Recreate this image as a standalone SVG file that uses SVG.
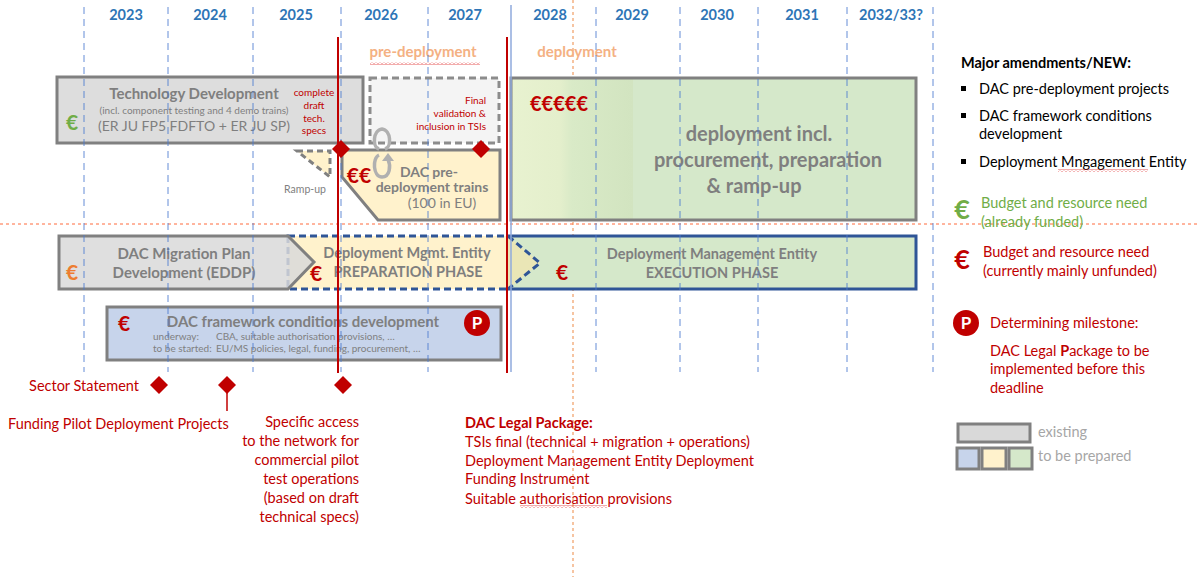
<svg xmlns="http://www.w3.org/2000/svg" width="1198" height="577" viewBox="0 0 1198 577">
<defs>
<style>
text{font-family:Lato,"Open Sans",sans-serif}
.yr{font-size:14.5px;font-weight:bold;fill:#2E75B6;text-anchor:middle}
.gb{fill:#7F7F7F;font-weight:bold;text-anchor:middle}
.gn{fill:#7F7F7F;text-anchor:middle}
.eur{font-weight:bold;font-size:21px;text-anchor:middle}
.sm{font-size:10px;fill:#C00000}
.ms{font-size:14.5px;fill:#C00000}
.lg{font-size:14.5px;fill:#000}
.fw{font-size:10px;fill:#808080}
.grid{stroke:#4A7BD0;stroke-width:1;stroke-dasharray:7 5;opacity:.85}
.dia{fill:#C00000}
</style>
<linearGradient id="gdep" gradientUnits="userSpaceOnUse" x1="511" y1="0" x2="916" y2="0">
<stop offset="0" stop-color="#E8F2D0"/>
<stop offset="0.12" stop-color="#E4EFCC"/>
<stop offset="0.15" stop-color="#D9EAC7"/>
<stop offset="0.30" stop-color="#D2E4C0"/>
<stop offset="0.302" stop-color="#D5E8CA"/>
<stop offset="1" stop-color="#D5E8CA"/>
</linearGradient>
<pattern id="wavy" width="4" height="3" patternUnits="userSpaceOnUse">
<path d="M0,2.5 L2,0.5 L4,2.5" stroke="#E03030" fill="none" stroke-width="0.8"/>
</pattern>
</defs>
<rect width="1198" height="577" fill="#FFFFFF"/>

<g id="years">
<text class="yr" x="126" y="20">2023</text>
<text class="yr" x="210" y="20">2024</text>
<text class="yr" x="296" y="20">2025</text>
<text class="yr" x="381" y="20">2026</text>
<text class="yr" x="465" y="20">2027</text>
<text class="yr" x="550" y="20">2028</text>
<text class="yr" x="632" y="20">2029</text>
<text class="yr" x="717" y="20">2030</text>
<text class="yr" x="802" y="20">2031</text>
<text class="yr" x="891" y="20">2032/33?</text>
</g>

<g id="phases">
<text x="423" y="57" style="font-size:15px;font-weight:bold;fill:#F4B183;text-anchor:middle">pre-deployment</text>
<rect x="370" y="62" width="110" height="3" fill="url(#wavy)"/>
<text x="577" y="57" style="font-size:15px;font-weight:bold;fill:#F4B183;text-anchor:middle">deployment</text>
</g>

<g id="guides">
<line x1="573" y1="0" x2="573" y2="577" stroke="#F4B183" stroke-width="1.5" stroke-dasharray="3 3"/>
<line x1="0" y1="224" x2="1198" y2="224" stroke="#FF6A3D" stroke-width="1" stroke-dasharray="3 3"/>
</g>

<g id="tech-dev">
<rect x="57" y="77" width="306" height="66" fill="#DDDDDD" stroke="#808080" stroke-width="3"/>
<text class="gb" x="194" y="99" style="font-size:15px">Technology Development</text>
<text class="gn" x="194" y="114" style="font-size:10px">(incl. component testing and 4 demo trains)</text>
<text class="gn" x="194" y="131" style="font-size:14px">(ER JU FP5 FDFTO + ER JU SP)</text>
<text class="eur" x="72" y="130" fill="#70AD47">€</text>
</g>

<g id="validation">
<rect x="370" y="78" width="129" height="65" fill="#F4F4F4" stroke="#8C8C8C" stroke-width="3" stroke-dasharray="7 4"/>
<text class="sm" x="486" y="104" text-anchor="end">Final</text>
<text class="sm" x="486" y="117" text-anchor="end">validation &amp;</text>
<text class="sm" x="486" y="130" text-anchor="end">inclusion in TSIs</text>
</g>

<g id="draft-specs">
<text class="sm" x="314" y="96" text-anchor="middle">complete</text>
<text class="sm" x="314" y="109" text-anchor="middle">draft</text>
<text class="sm" x="314" y="122" text-anchor="middle">tech.</text>
<text class="sm" x="314" y="134" text-anchor="middle">specs</text>
</g>

<g id="ramp-up">
<polygon points="297,151 330,151 330,177" fill="#FFF2CC" stroke="#808080" stroke-width="3" stroke-dasharray="6 4"/>
<text class="gn" x="305" y="193" style="font-size:10.5px">Ramp-up</text>
</g>

<g id="pre-deployment-trains">
<path d="M342,150 H500 V220 H378 L342,177 Z" fill="#FFF2CC" stroke="#808080" stroke-width="3"/>
<text class="eur" x="359" y="183" fill="#C00000">€€</text>
<text class="gb" x="429" y="177" style="font-size:14px">DAC pre-</text>
<text class="gb" x="432" y="192" style="font-size:14px">deployment trains</text>
<text class="gn" x="442" y="208" style="font-size:14px">(100 in EU)</text>
<path d="M379,149 C372,147 373,130 382,129 C391,130 392,147 385,149" fill="none" stroke="#B0B0B0" stroke-width="3.5"/>
<path d="M379,155 C372,158 373,177 382,177 C390,177 391,166 388,159" fill="none" stroke="#B0B0B0" stroke-width="3.5"/>
<polygon points="382,161 388,153 394,161" fill="#B0B0B0"/>
</g>

<g id="deployment">
<rect x="511" y="78" width="405" height="142" fill="url(#gdep)" stroke="#808080" stroke-width="3"/>
<text class="eur" x="559" y="111" fill="#C00000" style="font-size:20px">€€€€€</text>
<text class="gb" x="759" y="141" style="font-size:20px">deployment incl.</text>
<text class="gb" x="768" y="167" style="font-size:20px">procurement, preparation</text>
<text class="gb" x="754" y="193" style="font-size:20px">&amp; ramp-up</text>
</g>

<g id="dme-execution">
<rect x="509" y="236" width="407" height="53" fill="#D5E8CA" stroke="#2F5597" stroke-width="3"/>
<text class="gb" x="712" y="259" style="font-size:14.5px">Deployment Management Entity</text>
<text class="gb" x="712" y="278" style="font-size:14.5px">EXECUTION PHASE</text>
<text class="eur" x="562" y="280" fill="#C00000">€</text>
</g>

<g id="dme-preparation">
<rect x="288" y="236" width="220" height="53" fill="#FFF2CC" stroke="#2F5597" stroke-width="3" stroke-dasharray="7 4"/>
<path d="M508,236 L540,263 L508,289 Z" fill="#EAE6B6" stroke="none"/>
<path d="M508,236 L540,263 L508,289" fill="none" stroke="#2F5597" stroke-width="3" stroke-dasharray="7 4"/>
<text class="gb" x="407" y="258" style="font-size:14.5px">Deployment Mgmt. Entity</text>
<text class="gb" x="408" y="277" style="font-size:14.5px">PREPARATION PHASE</text>
<text class="eur" x="316" y="281" fill="#C00000">€</text>
</g>

<g id="migration-plan">
<path d="M59,236 H288 L314,262 L288,289 H59 Z" fill="#D9D9D9" fill-opacity="0.85" stroke="#808080" stroke-width="3"/>
<text class="gb" x="184" y="259" style="font-size:15px">DAC Migration Plan</text>
<text class="gb" x="184" y="278" style="font-size:15px">Development (EDDP)</text>
<text class="eur" x="72" y="280" fill="#ED7D31">€</text>
</g>

<g id="framework">
<rect x="107" y="307" width="394" height="53" fill="#C7D4EB" stroke="#808080" stroke-width="3"/>
<text class="gb" x="303" y="327" style="font-size:15px">DAC framework conditions development</text>
<text class="eur" x="124" y="331" fill="#C00000">€</text>
<text class="fw" x="153" y="340">underway:</text>
<text class="fw" x="216" y="340">CBA, suitable authorisation provisions, …</text>
<text class="fw" x="153" y="352">to be started:</text>
<text class="fw" x="216" y="352">EU/MS policies, legal, funding, procurement, …</text>
<circle cx="477" cy="323" r="13" fill="#C00000"/>
<text x="477" y="329" style="font-size:17px;font-weight:bold;fill:#FFFFFF;text-anchor:middle">P</text>
</g>

<g id="connectors">
<line x1="84" y1="7" x2="84" y2="372" class="grid"/>
<line x1="168" y1="7" x2="168" y2="372" class="grid"/>
<line x1="253" y1="7" x2="253" y2="372" class="grid"/>
<line x1="341" y1="7" x2="341" y2="372" class="grid"/>
<line x1="428" y1="7" x2="428" y2="372" class="grid"/>
<line x1="596" y1="7" x2="596" y2="372" class="grid"/>
<line x1="680" y1="7" x2="680" y2="372" class="grid"/>
<line x1="758" y1="7" x2="758" y2="372" class="grid"/>
<line x1="847" y1="7" x2="847" y2="372" class="grid"/>
<line x1="933" y1="7" x2="933" y2="372" class="grid"/>
<line x1="511" y1="5" x2="511" y2="372" stroke="#8FAADC" stroke-width="1.5"/>
<line x1="338" y1="37" x2="338" y2="373" stroke="#C00000" stroke-width="2"/>
<line x1="507" y1="37" x2="507" y2="373" stroke="#C00000" stroke-width="2"/>
<line x1="227" y1="392" x2="227" y2="411" stroke="#C00000" stroke-width="1.5"/>
</g>

<g id="milestones">
<polygon class="dia" points="341,140 350,149 341,158 332,149"/>
<polygon class="dia" points="481,140 490,149 481,158 472,149"/>
<polygon class="dia" points="159,376 168,385 159,394 150,385"/>
<polygon class="dia" points="227,376 236,385 227,394 218,385"/>
<polygon class="dia" points="343,376 352,385 343,394 334,385"/>
</g>

<g id="milestone-labels">
<text class="ms" x="139" y="391" text-anchor="end">Sector Statement</text>
<text class="ms" x="8" y="429">Funding Pilot Deployment Projects</text>
<text class="ms" x="359" y="427" text-anchor="end">Specific access</text>
<text class="ms" x="359" y="446" text-anchor="end">to the network for</text>
<text class="ms" x="359" y="465" text-anchor="end">commercial pilot</text>
<text class="ms" x="359" y="484" text-anchor="end">test operations</text>
<text class="ms" x="359" y="503" text-anchor="end">(based on draft</text>
<text class="ms" x="359" y="522" text-anchor="end">technical specs)</text>
</g>

<g id="legal-package">
<text class="ms" x="465" y="428" font-weight="bold">DAC Legal Package:</text>
<text class="ms" x="465" y="447">TSIs final (technical + migration + operations)</text>
<text class="ms" x="465" y="466">Deployment Management Entity Deployment</text>
<text class="ms" x="465" y="484">Funding Instrument</text>
<text class="ms" x="465" y="504">Suitable authorisation provisions</text>
<rect x="520" y="505" width="87" height="3" fill="url(#wavy)"/>
</g>

<g id="legend">
<text class="lg" x="961" y="68" font-weight="bold">Major amendments/NEW:</text>
<rect x="961" y="86" width="5" height="5" fill="#000"/>
<rect x="961" y="113" width="5" height="5" fill="#000"/>
<rect x="961" y="159" width="5" height="5" fill="#000"/>
<text class="lg" x="979" y="94">DAC pre-deployment projects</text>
<text class="lg" x="979" y="121">DAC framework conditions</text>
<text class="lg" x="979" y="139">development</text>
<text class="lg" x="979" y="167">Deployment Mngagement Entity</text>
<rect x="1058" y="169" width="90" height="3" fill="url(#wavy)"/>
<text x="962" y="219" style="font-size:27px;font-weight:bold;fill:#70AD47;text-anchor:middle">€</text>
<text x="981" y="208" style="font-size:14.5px;fill:#70AD47">Budget and resource need</text>
<text x="981" y="227" style="font-size:14.5px;fill:#70AD47">(already funded)</text>
<text x="962" y="269" style="font-size:27px;font-weight:bold;fill:#C00000;text-anchor:middle">€</text>
<text class="ms" x="983" y="257">Budget and resource need</text>
<text class="ms" x="983" y="276">(currently mainly unfunded)</text>
<circle cx="966" cy="323" r="13" fill="#C00000"/>
<text x="966" y="329" style="font-size:17px;font-weight:bold;fill:#FFFFFF;text-anchor:middle">P</text>
<text class="ms" x="990" y="328">Determining milestone:</text>
<text class="ms" x="990" y="356">DAC Legal <tspan font-weight="bold">P</tspan>ackage to be</text>
<text class="ms" x="990" y="374">implemented before this</text>
<text class="ms" x="990" y="393">deadline</text>
<rect x="958" y="424" width="72" height="18" fill="#D9D9D9" stroke="#808080" stroke-width="3"/>
<text x="1038" y="437" style="font-size:14.5px;fill:#A6A6A6">existing</text>
<rect x="957" y="448" width="22" height="21" fill="#C7D4EB" stroke="#808080" stroke-width="3"/>
<rect x="982" y="448" width="24" height="21" fill="#FFF2CC" stroke="#808080" stroke-width="3"/>
<rect x="1009" y="448" width="23" height="21" fill="#D5E8CA" stroke="#808080" stroke-width="3"/>
<text x="1038" y="461" style="font-size:14.5px;fill:#A6A6A6">to be prepared</text>
</g>
</svg>
